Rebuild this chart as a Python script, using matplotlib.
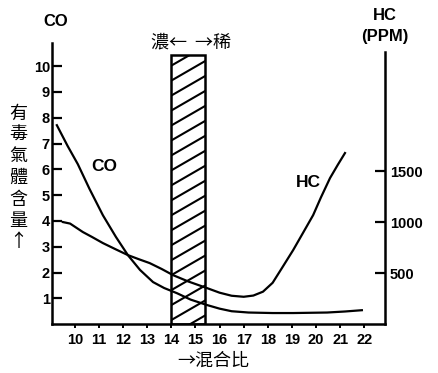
import numpy as np
import matplotlib
matplotlib.use("Agg")
import matplotlib.pyplot as plt

plt.rcParams['font.family'] = ['Liberation Sans', 'Noto Sans CJK TC', 'DejaVu Sans']

# CO (%), left axis
co_x = [9.25, 9.7, 10.12, 10.6, 11.16, 11.7, 12.2, 12.7, 13.24, 13.7, 14.23, 14.8, 15.48,
        16.0, 16.5, 17.2, 18.2, 19.05, 20.46, 21.2, 21.9]
co_y = [7.71, 6.9, 6.2, 5.25, 4.22, 3.38, 2.67, 2.1, 1.63, 1.4, 1.2, 0.95, 0.74,
        0.6, 0.5, 0.45, 0.43, 0.43, 0.45, 0.49, 0.54]

# HC (PPM), right axis
hc_x = [9.5, 9.8, 10.33, 10.7, 11.16, 11.7, 12.2, 12.65, 13.1, 13.6, 14.07, 14.7, 15.48,
        16.0, 16.5, 17.0, 17.4, 17.8, 18.2, 18.6, 19.05, 19.45, 19.88, 20.2, 20.58, 20.9, 21.2]
hc_y = [1000, 985, 902, 855, 794, 732, 676, 636, 598, 540, 480, 418, 353,
        308, 278, 268, 280, 318, 405, 555, 725, 890, 1068, 1240, 1431, 1560, 1676]

left_ticks = [1, 2, 3, 4, 5, 6, 7, 8, 9, 10]
right_ticks = [500, 1000, 1500]
x_ticks = list(range(10, 23))

band = (14.0, 15.4, 10.43)  # 濃/稀 band: x0, x1, top

fig = plt.figure(figsize=(4.39, 3.73), dpi=100)
ax = fig.add_axes([0.1185, 0.131, 0.7585, 0.754])
ax2 = ax.twinx()

ax.set_xlim(9.05, 22.86)
ax.set_ylim(0, 10.9)
ax2.set_ylim(0, 2755)

ax.plot(co_x, co_y, color='black', lw=1.6)
ax2.plot(hc_x, hc_y, color='black', lw=1.6)

# hatched band
rect = plt.Rectangle((band[0], 0), band[1] - band[0], band[2],
                     facecolor='none', edgecolor='black', lw=1.8, zorder=3)
ax.add_patch(rect)
slope = 0.54
for off in np.arange(-1.0, band[2] + 0.6, 0.58):
    ln, = ax.plot([band[0], band[1]], [off, off + slope * (band[1] - band[0])],
                  color='black', lw=1.5, zorder=2)
    ln.set_clip_path(rect)

for a in (ax, ax2):
    a.spines['top'].set_visible(False)
    for s in a.spines.values():
        s.set_linewidth(1.8)
ax2.spines['left'].set_visible(False)
ax.spines['right'].set_visible(False)
ax2.spines['bottom'].set_visible(False)
ax2.spines['right'].set_bounds(0, 2667)

ax.set_yticks(left_ticks)
ax.set_yticklabels([str(t) for t in left_ticks], fontweight='bold', fontsize=10.5)
ax.tick_params(axis='y', direction='in', length=7, width=1.6, pad=1.5)
ax2.set_yticks(right_ticks)
ax2.set_yticklabels([str(t) for t in right_ticks], fontweight='bold', fontsize=10.5)
ax2.tick_params(axis='y', direction='in', length=7, width=1.6, pad=3.5)
ax.set_xticks(x_ticks)
ax.set_xticklabels([str(t) for t in x_ticks], fontweight='bold', fontsize=10.5)
ax.tick_params(axis='x', direction='out', length=3, width=1.4, pad=3.5)

# labels
fig.text(56 / 439, 1 - 21 / 373, 'CO', ha='center', va='center', fontsize=12, fontweight='bold')
fig.text(385 / 439, 1 - 16 / 373, 'HC', ha='center', va='center', fontsize=12, fontweight='bold')
fig.text(385 / 439, 1 - 37 / 373, '(PPM)', ha='center', va='center', fontsize=12, fontweight='bold')
ax.text(11.2, 6.1, 'CO', ha='center', va='center', fontsize=12.5, fontweight='bold')
ax.text(19.7, 5.5, 'HC', ha='center', va='center', fontsize=12.5, fontweight='bold')

cjk = ['Noto Sans CJK TC', 'DejaVu Sans']
fig.text(191 / 439, 1 - 42 / 373, '濃←  →稀', ha='center', va='center', fontsize=13,
         family=cjk, fontweight='medium')
fig.text(213 / 439, 1 - 361 / 373, '→混合比', ha='center', va='center', fontsize=13,
         family=cjk, fontweight='medium')
fig.text(18 / 439, 1 - 178 / 373, '\n'.join('有毒氣體含量↑'), ha='center', va='center',
         fontsize=13, family=cjk, fontweight='medium', linespacing=1.25)

fig.savefig('out.png', dpi=100)
